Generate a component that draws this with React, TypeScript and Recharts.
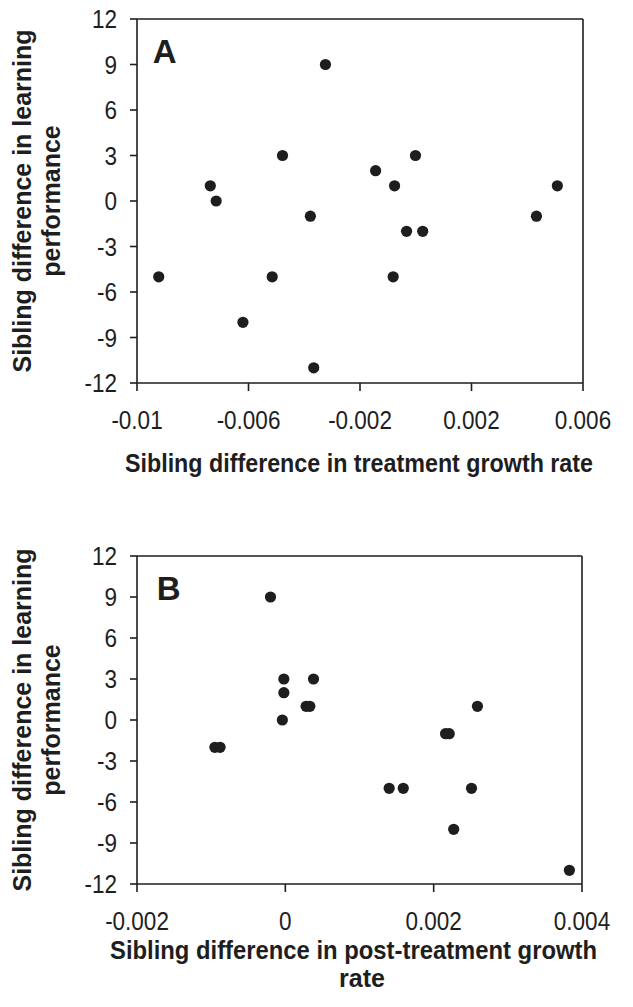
import { ScatterChart, Scatter, XAxis, YAxis, ReferenceLine } from 'recharts';

// panel A: growth during treatment vs learning
const treatmentRateA = [
  -0.00922, -0.00737, -0.00716, -0.0062, -0.00515, -0.00478, -0.00378, -0.00366, -0.00324,
  -0.00144, -0.00076, -0.00081, -0.00033, -0.00001, 0.00025, 0.00433, 0.00508,
];
const learningA = [-5, 1, 0, -8, -5, 3, -1, -11, 9, 2, 1, -5, -2, 3, -2, -1, 1];

// panel B: growth after treatment vs learning
const postRateB = [
  -0.00095, -0.00088, -0.0002, -0.00002, -0.00002, -0.00004, 0.00028, 0.00033, 0.00038,
  0.0014, 0.00159, 0.00216, 0.00221, 0.00227, 0.00251, 0.00259, 0.00383,
];
const learningB = [-2, -2, 9, 3, 2, 0, 1, 1, 3, -5, -5, -1, -1, -8, -5, 1, -11];

const xTicksA = [-0.01, -0.006, -0.002, 0.002, 0.006];
const xTicksB = [-0.002, 0, 0.002, 0.004];
const yTicks = [-12, -9, -6, -3, 0, 3, 6, 9, 12];

const yTitle = ['Sibling difference in learning', 'performance'];
const xTitleA = ['Sibling difference in treatment growth rate'];
const xTitleB = ['Sibling difference in post-treatment growth', 'rate'];

const INK = '#1e1e1e';
const FONT = '"Liberation Sans", Arial, sans-serif';

const toPoints = (xs: number[], ys: number[]) => xs.map((x, i) => ({ x, y: ys[i] }));

const Dot = (p: any) => <circle cx={p.cx} cy={p.cy} r={5.6} fill={INK} />;

const XTick = ({ x, y, payload }: any) => (
  <g transform={`translate(${x},${y})`}>
    <text transform="scale(0.9,1)" textAnchor="middle" dy={18.5} fontSize={25} fill={INK} fontFamily={FONT}>
      {String(payload.value)}
    </text>
  </g>
);

const YTick = ({ x, y, payload }: any) => (
  <g transform={`translate(${x},${y})`}>
    <text transform="scale(0.9,1)" textAnchor="end" dy={9} fontSize={25} fill={INK} fontFamily={FONT}>
      {String(payload.value)}
    </text>
  </g>
);

const yTitleLabel = (props: any) => {
  const vb = props.viewBox;
  const cy = vb.y + vb.height / 2;
  return (
    <text
      transform={`translate(${vb.x},${cy}) rotate(-90)`}
      textAnchor="middle"
      fontSize={25}
      fontWeight="bold"
      fill={INK}
      fontFamily={FONT}
    >
      <tspan x={0} y={31}>{yTitle[0]}</tspan>
      <tspan x={0} y={60}>{yTitle[1]}</tspan>
    </text>
  );
};

// x title, one tspan per line; widths squeeze the text like the original figure
const xTitleLabel =
  (lines: string[], widths: number[], shifts: number[], baseline: number) => (props: any) => {
    const vb = props.viewBox;
    const cx = vb.x + vb.width / 2;
    return (
      <text textAnchor="middle" fontSize={25} fontWeight="bold" fill={INK} fontFamily={FONT}>
        {lines.map((l, i) => (
          <tspan
            key={l}
            x={cx + shifts[i]}
            y={vb.y + baseline + i * 28}
            textLength={widths[i] || undefined}
            lengthAdjust="spacingAndGlyphs"
          >
            {l}
          </tspan>
        ))}
      </text>
    );
  };

interface PanelProps {
  data: { x: number; y: number }[];
  xDomain: [number, number];
  xTicks: number[];
  height: number;
  top: number;
  right: number;
  xAxisHeight: number;
  xLabel: (props: any) => any;
}

function Panel({ data, xDomain, xTicks, height, top, right, xAxisHeight, xLabel }: PanelProps) {
  return (
    <ScatterChart width={633} height={height} margin={{ top, right, bottom: 0, left: 0 }}>
      <XAxis
        type="number"
        dataKey="x"
        domain={xDomain}
        ticks={xTicks}
        interval={0}
        height={xAxisHeight}
        tickSize={8}
        tickMargin={19}
        tick={<XTick />}
        stroke={INK}
        strokeWidth={1.6}
        label={xLabel}
      />
      <YAxis
        type="number"
        dataKey="y"
        domain={[-12, 12]}
        ticks={yTicks}
        interval={0}
        width={137}
        tickSize={7}
        tickMargin={13}
        tick={<YTick />}
        stroke={INK}
        strokeWidth={1.6}
        label={yTitleLabel}
      />
      <ReferenceLine y={12} stroke={INK} strokeWidth={1.6} />
      <ReferenceLine x={xDomain[1]} stroke={INK} strokeWidth={1.6} />
      <Scatter data={data} shape={Dot} isAnimationActive={false} />
    </ScatterChart>
  );
}

export default function App() {
  return (
    <div style={{ position: 'relative', width: 633, height: 1007, background: '#fff' }}>
      <style>{'body{margin:0}'}</style>
      <Panel
        data={toPoints(treatmentRateA, learningA)}
        xDomain={[-0.01, 0.006]}
        xTicks={xTicksA}
        height={500}
        top={19}
        right={50}
        xAxisHeight={117}
        xLabel={xTitleLabel(xTitleA, [468], [-1], 89)}
      />
      <Panel
        data={toPoints(postRateB, learningB)}
        xDomain={[-0.002, 0.004]}
        xTicks={xTicksB}
        height={507}
        top={56}
        right={51}
        xAxisHeight={123}
        xLabel={xTitleLabel(xTitleB, [487, 0], [-6, 2.5], 75)}
      />
      <svg width={633} height={1007} style={{ position: 'absolute', left: 0, top: 0, pointerEvents: 'none' }}>
        <text x={152.7} y={63} fontSize={33} fontWeight="bold" fill={INK} fontFamily={FONT}>A</text>
        <text x={156.7} y={600} fontSize={33} fontWeight="bold" fill={INK} fontFamily={FONT}>B</text>
      </svg>
    </div>
  );
}
